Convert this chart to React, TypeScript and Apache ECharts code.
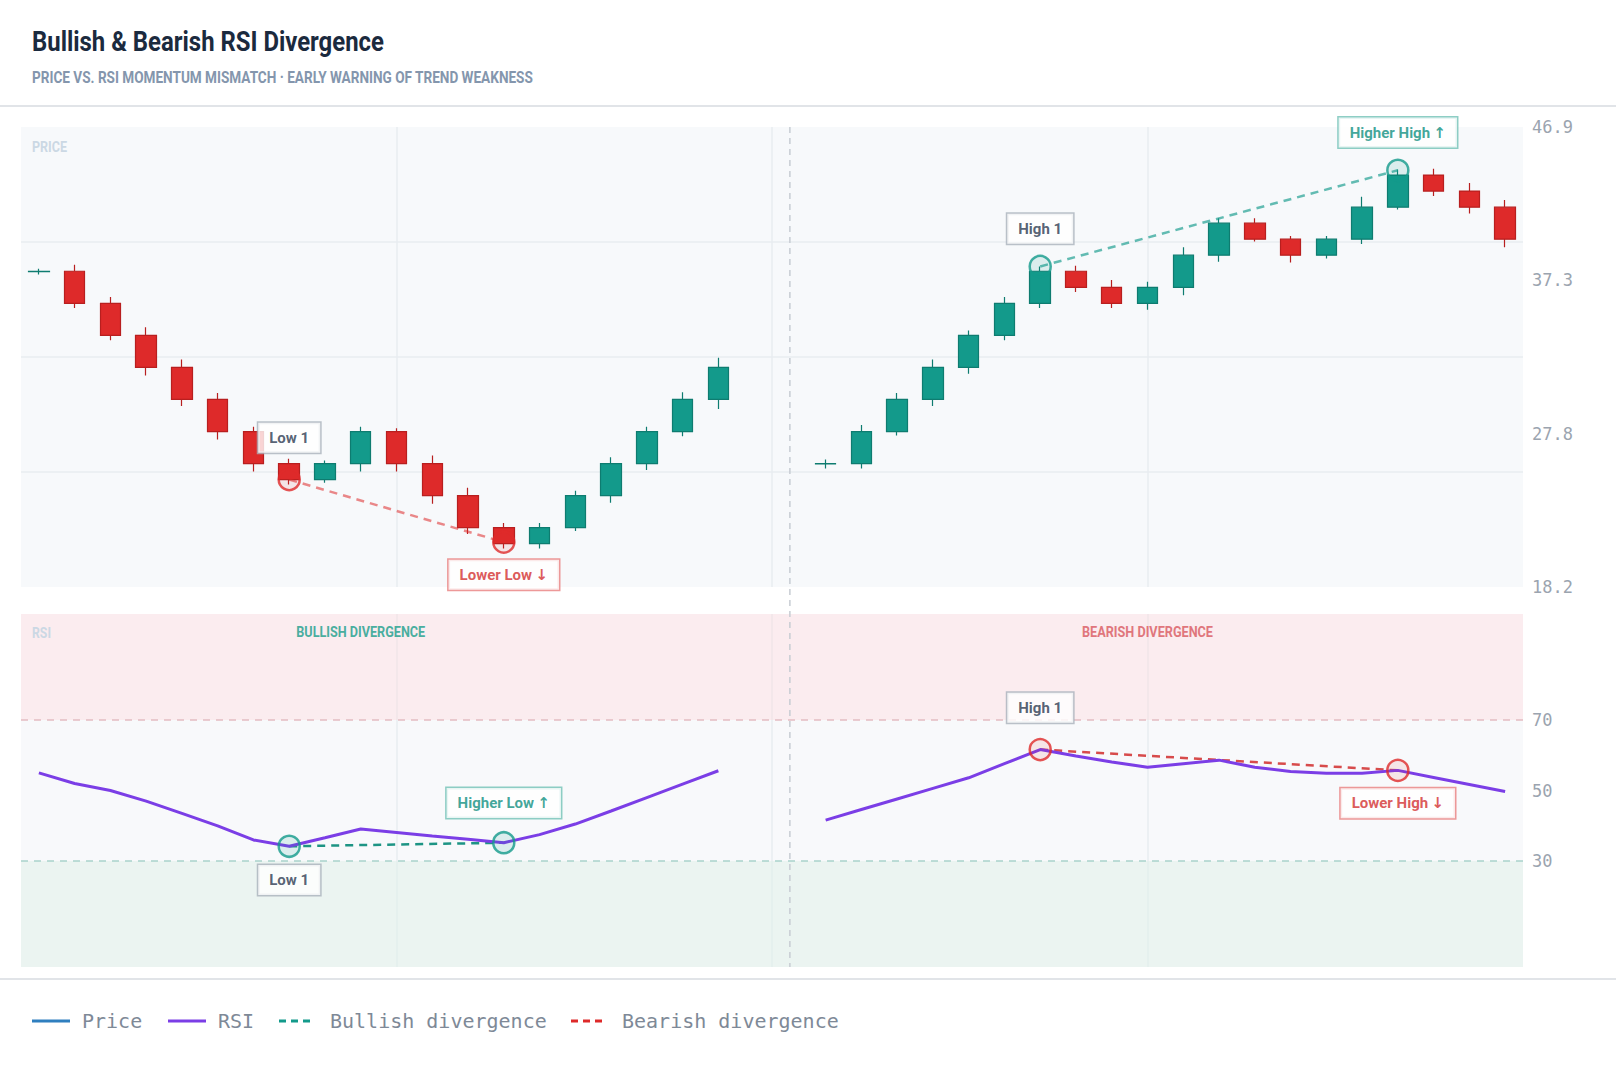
import React, { useEffect, useRef } from "react";
import * as echarts from "echarts";

// ---- data ----
// candles as [open, close, low, high]
const bullishLegCandles = [
  [37.88, 37.9, 37.7, 38.05],
  [37.9, 35.9, 35.6, 38.3],
  [35.9, 33.9, 33.6, 36.3],
  [33.9, 31.9, 31.4, 34.4],
  [31.9, 29.9, 29.5, 32.4],
  [29.9, 27.9, 27.4, 30.3],
  [27.9, 25.9, 25.4, 28.2],
  [25.9, 24.9, 24.6, 26.2],
  [24.9, 25.9, 24.7, 26.1],
  [25.9, 27.9, 25.4, 28.2],
  [27.9, 25.9, 25.4, 28.1],
  [25.9, 23.9, 23.4, 26.4],
  [23.9, 21.9, 21.5, 24.4],
  [21.9, 20.9, 20.6, 22.2],
  [20.9, 21.9, 20.6, 22.2],
  [21.9, 23.9, 21.7, 24.2],
  [23.9, 25.9, 23.45, 26.3],
  [25.9, 27.9, 25.5, 28.2],
  [27.9, 29.9, 27.6, 30.35],
  [29.9, 31.9, 29.3, 32.5],
];
const bearishLegCandles = [
  [25.88, 25.9, 25.6, 26.15],
  [25.9, 27.9, 25.6, 28.3],
  [27.9, 29.9, 27.65, 30.3],
  [29.9, 31.9, 29.5, 32.4],
  [31.9, 33.9, 31.5, 34.2],
  [33.9, 35.9, 33.6, 36.3],
  [35.9, 37.9, 35.6, 38.2],
  [37.9, 36.9, 36.6, 38.25],
  [36.9, 35.9, 35.6, 37.35],
  [35.9, 36.9, 35.5, 37.25],
  [36.9, 38.9, 36.4, 39.4],
  [38.9, 40.9, 38.5, 41.2],
  [40.9, 39.9, 39.75, 41.2],
  [39.9, 38.9, 38.45, 40.1],
  [38.9, 39.9, 38.7, 40.1],
  [39.9, 41.9, 39.6, 42.55],
  [41.9, 43.9, 41.75, 44.25],
  [43.9, 42.9, 42.6, 44.3],
  [42.9, 41.9, 41.5, 43.4],
  [41.9, 39.9, 39.4, 42.35],
];
const bullishLegRsi = [55, 52, 50, 47, 43.5, 40, 36, 34.2, 36.6, 39.1, 38.1, 37.1, 36.2, 35.2, 37.5, 40.5, 44.2, 48, 51.8, 55.6];
const bearishLegRsi = [41.6, 44.6, 47.6, 50.6, 53.6, 57.6, 61.6, 59.8, 58.1, 56.6, 57.6, 58.6, 56.6, 55.4, 54.9, 54.9, 55.7, 53.7, 51.7, 49.7];
const gapCount = 2; // empty slots between the two legs
const priceMin = 18.2;
const priceMax = 46.9;
const priceTicks = ["18.2", "27.8", "37.3", "46.9"];
const rsiTicks = [30, 50, 70];
const rsiOverbought = 70;
const rsiOversold = 30;

const pivotIdx = [7, 13, 28, 38];
const pricePivotVal = [24.9, 21.0, 38.2, 44.2];
const pricePivotText = ["Low 1", "Lower Low ↓", "High 1", "Higher High ↑"];
const rsiPivotText = ["Low 1", "Higher Low ↑", "High 1", "Lower High ↓"];
const sectionCaptions = ["BULLISH DIVERGENCE", "BEARISH DIVERGENCE"];
const sectionCaptionIdx = [9, 31];

const legendNames = ["Price", "RSI", "Bullish divergence", "Bearish divergence"];

// ---- style ----
const TEAL = "#139a8b";
const RED = "#de2a2a";
const PURPLE = "#7b3ee6";
const BLUE = "#2f7fbf";
const FONT_COND = "Roboto, 'Noto Sans', sans-serif";
const FONT_MONO = "'DejaVu Sans Mono', 'Liberation Mono', monospace";

const tones: Record<string, { text: string; border: string }> = {
  neutral: { text: "#2b3950", border: "#a9b1bc" },
  bull: { text: "#0f8f80", border: "#72c2b6" },
  bear: { text: "#d32f2f", border: "#e88080" },
};

// width of a string in the given font, used to squeeze texts into a condensed look
const textWidth = (text: string, font: string) => {
  const ctx = document.createElement("canvas").getContext("2d");
  if (!ctx) return 1;
  ctx.font = font;
  return ctx.measureText(text).width || 1;
};

const condensedText = (text: string, x: number, y: number, size: number, color: string, targetWidth: number, align = "left") => {
  const w = textWidth(text, `bold ${size}px ${FONT_COND}`);
  return {
    type: "text",
    x,
    y,
    scaleX: targetWidth / w,
    z: 50,
    silent: true,
    style: { text, fill: color, fontFamily: FONT_COND, fontWeight: "bold", fontSize: size, verticalAlign: "middle", align },
  };
};

// "Higher High ↑" -> rich text with a heavier arrow glyph
const richLabel = (text: string) => {
  const m = text.match(/^(.*)\s([↑↓])$/);
  return m ? `{t|${m[1]}} {a|${m[2]}}` : `{t|${text}}`;
};

const App: React.FC = () => {
  const chartRef = useRef<HTMLDivElement>(null);

  useEffect(() => {
    document.body.style.margin = "0";
    if (!chartRef.current) return;
    const chart = echarts.init(chartRef.current, null, { renderer: "svg" });

    const gap = Array.from({ length: gapCount }, () => ["-", "-", "-", "-"]);
    const candles = [...bullishLegCandles, ...gap, ...bearishLegCandles];
    const rsi = [...bullishLegRsi, ...gap.map(() => "-"), ...bearishLegRsi];
    const categories = candles.map((_, i) => `D${i + 1}`);
    const splitIndex = bullishLegCandles.length + gapCount - 1;

    const priceLook = [
      { ring: RED, tone: "neutral", pos: "top", dist: 15 },
      { ring: RED, tone: "bear", pos: "bottom", dist: 6 },
      { ring: TEAL, tone: "neutral", pos: "top", dist: 11 },
      { ring: TEAL, tone: "bull", pos: "top", dist: 11 },
    ];
    const rsiLook = [
      { ring: TEAL, tone: "neutral", pos: "bottom", dist: 7 },
      { ring: TEAL, tone: "bull", pos: "top", dist: 13 },
      { ring: RED, tone: "neutral", pos: "top", dist: 15 },
      { ring: RED, tone: "bear", pos: "bottom", dist: 6 },
    ];

    const pivot = (idx: number, val: number, text: string, look: any) => {
      const color = tones[look.tone].text;
      return {
        value: [idx, val],
        itemStyle: {
          color: look.ring === RED ? "rgba(222,42,42,0.12)" : "rgba(19,154,139,0.15)",
          borderColor: look.ring,
          borderWidth: 2.5,
        },
        label: {
          show: true,
          formatter: richLabel(text),
          position: look.pos,
          distance: look.dist,
          borderColor: tones[look.tone].border,
          borderWidth: 1.5,
          backgroundColor: "#ffffff",
          padding: [6, 11, 6, 11],
          rich: {
            t: { color, fontFamily: FONT_COND, fontWeight: "bold", fontSize: 15, lineHeight: 18 },
            a: { color, fontFamily: "'DejaVu Sans', sans-serif", fontWeight: "bold", fontSize: 15, lineHeight: 18 },
          },
        },
      };
    };

    const divLine = (x: number, y: number, from: number, to: number, vals: number[], color: string) => ({
      type: "line",
      xAxisIndex: x,
      yAxisIndex: y,
      data: [
        [pivotIdx[from], vals[from]],
        [pivotIdx[to], vals[to]],
      ],
      symbol: "none",
      silent: true,
      z: 4,
      lineStyle: { color, width: 2.5, type: [8, 6] },
    });

    const rsiPivotVal = pivotIdx.map((i) => rsi[i] as number);

    const gridLine = { show: true, showMinLine: false, showMaxLine: false, lineStyle: { color: "#e8ecf1", width: 1.5 } };
    const quiet = { axisLine: { show: false }, axisTick: { show: false } };

    const option: any = {
      animation: false,
      backgroundColor: "#ffffff",
      grid: [
        { left: 21, right: 93, top: 127, height: 460, show: true, backgroundColor: "#f7f9fb", borderWidth: 0 },
        { left: 21, right: 93, top: 614, height: 353, show: true, backgroundColor: "#f8f9fb", borderWidth: 0 },
      ],
      xAxis: [
        { type: "category", gridIndex: 0, data: categories, show: false },
        { type: "value", gridIndex: 0, min: 0, max: 4, interval: 1, ...quiet, axisLabel: { show: false }, splitLine: gridLine },
        { type: "category", gridIndex: 1, data: categories, show: false },
        { type: "value", gridIndex: 1, min: 0, max: 4, interval: 1, ...quiet, axisLabel: { show: false }, splitLine: gridLine },
      ],
      yAxis: [
        { type: "value", gridIndex: 0, min: priceMin, max: priceMax, show: false },
        {
          type: "value", gridIndex: 0, min: 0, max: priceTicks.length - 1, interval: 1, position: "right", ...quiet,
          splitLine: { show: false },
          axisLabel: { formatter: (v: number) => priceTicks[v], color: "#9ba4af", fontFamily: FONT_MONO, fontSize: 17, margin: 9 },
        },
        { type: "value", gridIndex: 0, min: 0, max: 4, interval: 1, ...quiet, axisLabel: { show: false }, splitLine: gridLine },
        {
          type: "value", gridIndex: 1, min: 0, max: 100, interval: 10, position: "right", ...quiet,
          splitLine: { show: false },
          axisLabel: {
            formatter: (v: number) => (rsiTicks.includes(v) ? String(v) : ""),
            color: "#9ba4af", fontFamily: FONT_MONO, fontSize: 17, margin: 9,
          },
        },
      ],
      series: [
        {
          name: legendNames[0],
          type: "candlestick",
          xAxisIndex: 0,
          yAxisIndex: 0,
          data: candles,
          barWidth: 21,
          silent: true,
          itemStyle: { color: TEAL, color0: RED, borderColor: "#0e7c70", borderColor0: "#b81f1f", borderWidth: 1.2 },
        },
        divLine(0, 0, 0, 1, pricePivotVal, "rgba(222,42,42,0.55)"),
        divLine(0, 0, 2, 3, pricePivotVal, "rgba(19,154,139,0.65)"),
        {
          type: "scatter",
          xAxisIndex: 0,
          yAxisIndex: 0,
          symbolSize: 21,
          z: 6,
          silent: true,
          data: pivotIdx.map((i, k) => pivot(i, pricePivotVal[k], pricePivotText[k], priceLook[k])),
        },
        {
          name: legendNames[1],
          type: "line",
          xAxisIndex: 2,
          yAxisIndex: 3,
          data: rsi,
          symbol: "none",
          silent: true,
          connectNulls: false,
          z: 5,
          lineStyle: { color: PURPLE, width: 3 },
          markArea: {
            silent: true,
            data: [
              [{ yAxis: rsiOverbought, itemStyle: { color: "rgba(255,215,222,0.38)" } }, { yAxis: 100 }],
              [{ yAxis: 0, itemStyle: { color: "rgba(224,241,233,0.55)" } }, { yAxis: rsiOversold }],
            ],
          },
          markLine: {
            silent: true,
            symbol: ["none", "none"],
            label: { show: false },
            data: [
              { yAxis: rsiOverbought, lineStyle: { color: "#e4bcc2", type: [7, 6], width: 1.5 } },
              { yAxis: rsiOversold, lineStyle: { color: "#a9d2cc", type: [7, 6], width: 1.5 } },
            ],
          },
        },
        divLine(2, 3, 0, 1, rsiPivotVal, "#1d9484"),
        divLine(2, 3, 2, 3, rsiPivotVal, "#d74b4b"),
        {
          type: "scatter",
          xAxisIndex: 2,
          yAxisIndex: 3,
          symbolSize: 21,
          z: 6,
          silent: true,
          data: pivotIdx.map((i, k) => pivot(i, rsiPivotVal[k], rsiPivotText[k], rsiLook[k])),
        },
      ],
    };

    chart.setOption(option);

    const dx = chart.convertToPixel({ xAxisIndex: 0 }, splitIndex) as number;
    const top = chart.convertToPixel({ yAxisIndex: 0 }, priceMax) as number;
    const bottom = chart.convertToPixel({ yAxisIndex: 3 }, 0) as number;
    const captionY = chart.convertToPixel({ yAxisIndex: 3 }, 95) as number;

    const captionEls = sectionCaptions.map((text, k) =>
      condensedText(
        text,
        chart.convertToPixel({ xAxisIndex: 2 }, sectionCaptionIdx[k]) as number,
        captionY,
        15,
        k === 0 ? "#4aae9f" : "#e0767c",
        k === 0 ? 129 : 131,
        "center"
      )
    );

    const legendX = [32, 168, 279, 571];
    const legendColors = [BLUE, PURPLE, TEAL, RED];
    const legendEls: any[] = [];
    legendNames.forEach((name, k) => {
      const x = legendX[k];
      legendEls.push({
        type: "line",
        shape: { x1: x, y1: 1021, x2: x + (k < 2 ? 38 : 34), y2: 1021 },
        style: { stroke: legendColors[k], lineWidth: 3, lineDash: k < 2 ? null : [7, 5] },
      });
      legendEls.push({
        type: "text",
        x: x + (k < 2 ? 50 : 51),
        y: 1021,
        style: { text: name, fill: "#7e8997", fontFamily: FONT_MONO, fontSize: 20, verticalAlign: "middle" },
      });
    });

    chart.setOption({
      graphic: [
        condensedText("Bullish & Bearish RSI Divergence", 32, 41, 28, "#1b2a3e", 352),
        condensedText("PRICE VS. RSI MOMENTUM MISMATCH · EARLY WARNING OF TREND WEAKNESS", 32, 78, 16, "#8496ad", 502),
        { type: "line", shape: { x1: 0, y1: 106, x2: 1616, y2: 106 }, style: { stroke: "#e1e4e8", lineWidth: 2 } },
        { type: "line", shape: { x1: 0, y1: 979, x2: 1616, y2: 979 }, style: { stroke: "#e1e4e8", lineWidth: 2 } },
        condensedText("PRICE", 32, 147, 14, "#cbd8e4", 35),
        condensedText("RSI", 32, 633, 14, "#cbd8e4", 19),
        {
          type: "line", z: 100, silent: true,
          shape: { x1: dx, y1: top, x2: dx, y2: bottom },
          style: { stroke: "#c7ccd3", lineWidth: 1.5, lineDash: [6, 5] },
        },
        ...captionEls,
        ...legendEls,
      ],
    });

    return () => {
      chart.dispose();
    };
  }, []);

  return <div ref={chartRef} style={{ width: 1616, height: 1068 }} />;
};

export default App;
